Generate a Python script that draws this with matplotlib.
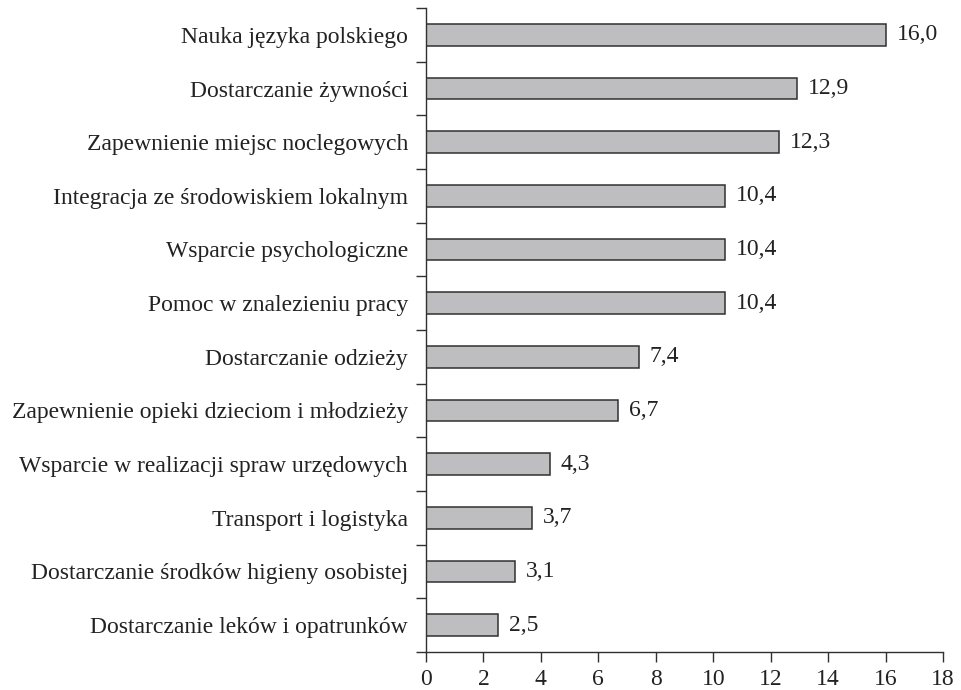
import matplotlib
matplotlib.use("Agg")
import matplotlib.pyplot as plt
import numpy as np

# ----------------------------
# Data
# ----------------------------
categories = [
    "Nauka języka polskiego",
    "Dostarczanie żywności",
    "Zapewnienie miejsc noclegowych",
    "Integracja ze środowiskiem lokalnym",
    "Wsparcie psychologiczne",
    "Pomoc w znalezieniu pracy",
    "Dostarczanie odzieży",
    "Zapewnienie opieki dzieciom i młodzieży",
    "Wsparcie w realizacji spraw urzędowych",
    "Transport i logistyka",
    "Dostarczanie środków higieny osobistej",
    "Dostarczanie leków i opatrunków",
]
values = [16.0, 12.9, 12.3, 10.4, 10.4, 10.4, 7.4, 6.7, 4.3, 3.7, 3.1, 2.5]
x_ticks = [0, 2, 4, 6, 8, 10, 12, 14, 16, 18]

# ----------------------------
# Plot
# ----------------------------
plt.rcParams["font.family"] = ["Liberation Serif", "DejaVu Serif"]
FS = 17

fig = plt.figure(figsize=(9.61, 6.90), dpi=100)
ax = fig.add_axes([0.4433, 0.0551, 0.9813 - 0.4433, 0.9884 - 0.0551])

n = len(categories)
y = np.arange(n)[::-1]  # first category on top

ax.barh(y, values, height=0.4, color="#bebec0", edgecolor="#303030", linewidth=1.1)

for yi, v in zip(y, values):
    ax.text(v + 0.38, yi, f"{v:.1f}".replace(".", ","), va="center", ha="left",
            fontsize=FS, color="#222222")

ax.set_xlim(0, 18)
ax.set_ylim(-0.5, n - 0.5)
ax.set_xticks(x_ticks)
ax.set_xticklabels([str(t) for t in x_ticks])

# category labels at bar centres, ticks at category boundaries
ax.set_yticks(y)
ax.set_yticklabels(categories)
ax.tick_params(axis="y", which="major", length=0, pad=13, labelsize=FS, labelcolor="#222222")
ax.set_yticks(np.arange(-0.5, n, 1.0), minor=True)
ax.tick_params(axis="y", which="minor", length=7, width=1.0, color="#303030", direction="out")
ax.tick_params(axis="x", length=7, width=1.0, color="#303030", direction="out",
               labelsize=FS, labelcolor="#222222", pad=5)

for side in ["top", "right"]:
    ax.spines[side].set_visible(False)
for side in ["left", "bottom"]:
    ax.spines[side].set_color("#303030")
    ax.spines[side].set_linewidth(1.0)

fig.savefig("out.png", dpi=100)
